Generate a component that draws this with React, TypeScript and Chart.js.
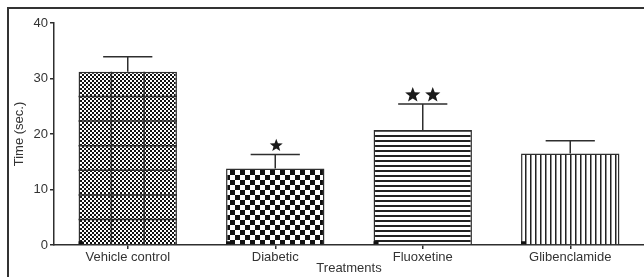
import React, { useEffect, useRef } from "react";
import { Chart, registerables } from "chart.js";

Chart.register(...registerables);

const categories = ["Vehicle control", "Diabetic", "Fluoxetine", "Glibenclamide"];
const means = [31.2, 13.8, 20.7, 16.5];
const sems = [2.7, 2.5, 4.7, 2.3];
const marks = [0, 1, 2, 0];
const yTicks = [0, 10, 20, 30, 40];

const INK = "#2e2e2e";
const FONT = "'Liberation Sans', Arial, sans-serif";

function makePattern(kind: string): CanvasPattern | string {
  const c = document.createElement("canvas");
  const g = c.getContext("2d");
  if (!g) return "#888";
  if (kind === "fineChecker") {
    c.width = 4; c.height = 4;
    g.fillStyle = "#fff"; g.fillRect(0, 0, 4, 4);
    g.fillStyle = "#111"; g.fillRect(0, 0, 2, 2); g.fillRect(2, 2, 2, 2);
  } else if (kind === "checker") {
    c.width = 10; c.height = 10;
    g.fillStyle = "#fff"; g.fillRect(0, 0, 10, 10);
    g.fillStyle = "#111"; g.fillRect(0, 0, 5, 5); g.fillRect(5, 5, 5, 5);
  } else if (kind === "hlines") {
    c.width = 5; c.height = 5;
    g.fillStyle = "#fff"; g.fillRect(0, 0, 5, 5);
    g.fillStyle = "#222"; g.fillRect(0, 0, 5, 2);
  } else {
    c.width = 5; c.height = 5;
    g.fillStyle = "#fff"; g.fillRect(0, 0, 5, 5);
    g.fillStyle = "#222"; g.fillRect(0, 0, 1.5, 5);
  }
  return g.createPattern(c, "repeat") || "#888";
}

function drawStar(ctx: CanvasRenderingContext2D, cx: number, cy: number, r: number) {
  const inner = r * 0.42;
  ctx.beginPath();
  for (let i = 0; i < 10; i++) {
    const rad = i % 2 === 0 ? r : inner;
    const a = -Math.PI / 2 + (i * Math.PI) / 5;
    const x = cx + rad * Math.cos(a);
    const y = cy + rad * Math.sin(a);
    if (i === 0) ctx.moveTo(x, y); else ctx.lineTo(x, y);
  }
  ctx.closePath();
  ctx.fill();
}

const overlayPlugin = {
  id: "overlay",
  afterDatasetsDraw(chart: any) {
    const ctx: CanvasRenderingContext2D = chart.ctx;
    const yScale = chart.scales.y;
    const meta = chart.getDatasetMeta(0);
    ctx.save();
    meta.data.forEach((bar: any, i: number) => {
      const w = bar.width;
      const left = bar.x - w / 2;
      const right = bar.x + w / 2;
      const top = bar.y;
      const base = bar.base;
      // tile grid on first bar
      if (i === 0) {
        ctx.strokeStyle = INK;
        ctx.lineWidth = 1.5;
        ctx.beginPath();
        for (let k = 1; k < 3; k++) {
          const x = left + (w * k) / 3;
          ctx.moveTo(x, top);
          ctx.lineTo(x, base);
        }
        for (let k = 1; k < 7; k++) {
          const y = top + ((base - top) * k) / 7;
          ctx.moveTo(left, y);
          ctx.lineTo(right, y);
        }
        ctx.stroke();
      }
      // small foot marker
      ctx.fillStyle = "#111";
      ctx.fillRect(left, base - 3, 5, 3);
      // error bar
      const yTop = yScale.getPixelForValue(means[i] + sems[i]);
      ctx.strokeStyle = INK;
      ctx.lineWidth = 1.5;
      ctx.beginPath();
      ctx.moveTo(bar.x, top);
      ctx.lineTo(bar.x, yTop);
      ctx.moveTo(bar.x - w / 4, yTop);
      ctx.lineTo(bar.x + w / 4, yTop);
      ctx.stroke();
      // significance stars
      ctx.fillStyle = "#1a1a1a";
      const n = marks[i];
      if (n === 1) drawStar(ctx, bar.x + 1, yTop - 9, 6.8);
      if (n === 2) {
        drawStar(ctx, bar.x - 10, yTop - 9, 8);
        drawStar(ctx, bar.x + 10, yTop - 9, 8);
      }
    });
    ctx.restore();
  },
  afterDraw(chart: any) {
    const ctx: CanvasRenderingContext2D = chart.ctx;
    ctx.save();
    ctx.strokeStyle = "#333";
    ctx.lineWidth = 2;
    ctx.beginPath();
    ctx.moveTo(8, 277);
    ctx.lineTo(8, 8);
    ctx.lineTo(644, 8);
    ctx.stroke();
    ctx.restore();
  },
};

export default function App() {
  const ref = useRef<HTMLCanvasElement | null>(null);
  useEffect(() => {
    if (!ref.current) return;
    const patterns = [
      makePattern("fineChecker"),
      makePattern("checker"),
      makePattern("hlines"),
      makePattern("vlines"),
    ];
    const chart = new Chart(ref.current, {
      type: "bar",
      data: {
        labels: categories,
        datasets: [
          {
            data: means,
            backgroundColor: patterns as any,
            borderColor: INK,
            borderWidth: 1.5,
            borderSkipped: "bottom",
            barPercentage: 0.667,
            categoryPercentage: 1,
          },
        ],
      },
      options: {
        responsive: false,
        animation: false,
        devicePixelRatio: 1,
        layout: { padding: { left: 0, top: 23, right: 0, bottom: 0 } },
        plugins: { legend: { display: false }, tooltip: { enabled: false } },
        scales: {
          x: {
            offset: true,
            grid: { display: true, drawOnChartArea: false, drawTicks: true, tickLength: 4, offset: false, color: INK, lineWidth: 1.5 },
            border: { display: true, color: INK, width: 1.5 },
            ticks: { color: "#333", font: { family: FONT, size: 13 }, padding: 1, maxRotation: 0, autoSkip: false },
            title: { display: true, text: "Treatments", color: "#333", font: { family: FONT, size: 13 }, padding: { top: 0, bottom: 1 } },
            afterFit: (s: any) => { s.height = 32; },
          },
          y: {
            min: 0,
            max: 40,
            afterBuildTicks: (s: any) => { s.ticks = yTicks.map((v) => ({ value: v })); },
            grid: { display: true, drawOnChartArea: false, drawTicks: true, tickLength: 4, color: INK, lineWidth: 1.5 },
            border: { display: true, color: INK, width: 1.5 },
            ticks: { color: "#333", font: { family: FONT, size: 13 }, padding: 2 },
            title: { display: true, text: "Time (sec.)", color: "#333", font: { family: FONT, size: 13 }, padding: { top: 12, bottom: 0 } },
            afterFit: (s: any) => { s.width = 54; },
          },
        },
      },
      plugins: [overlayPlugin],
    });
    return () => chart.destroy();
  }, []);
  return (
    <div style={{ position: "fixed", left: 0, top: 0, width: 644, height: 277, background: "#fff" }}>
      <canvas ref={ref} width={644} height={277} style={{ display: "block", width: 644, height: 277 }} />
    </div>
  );
}
